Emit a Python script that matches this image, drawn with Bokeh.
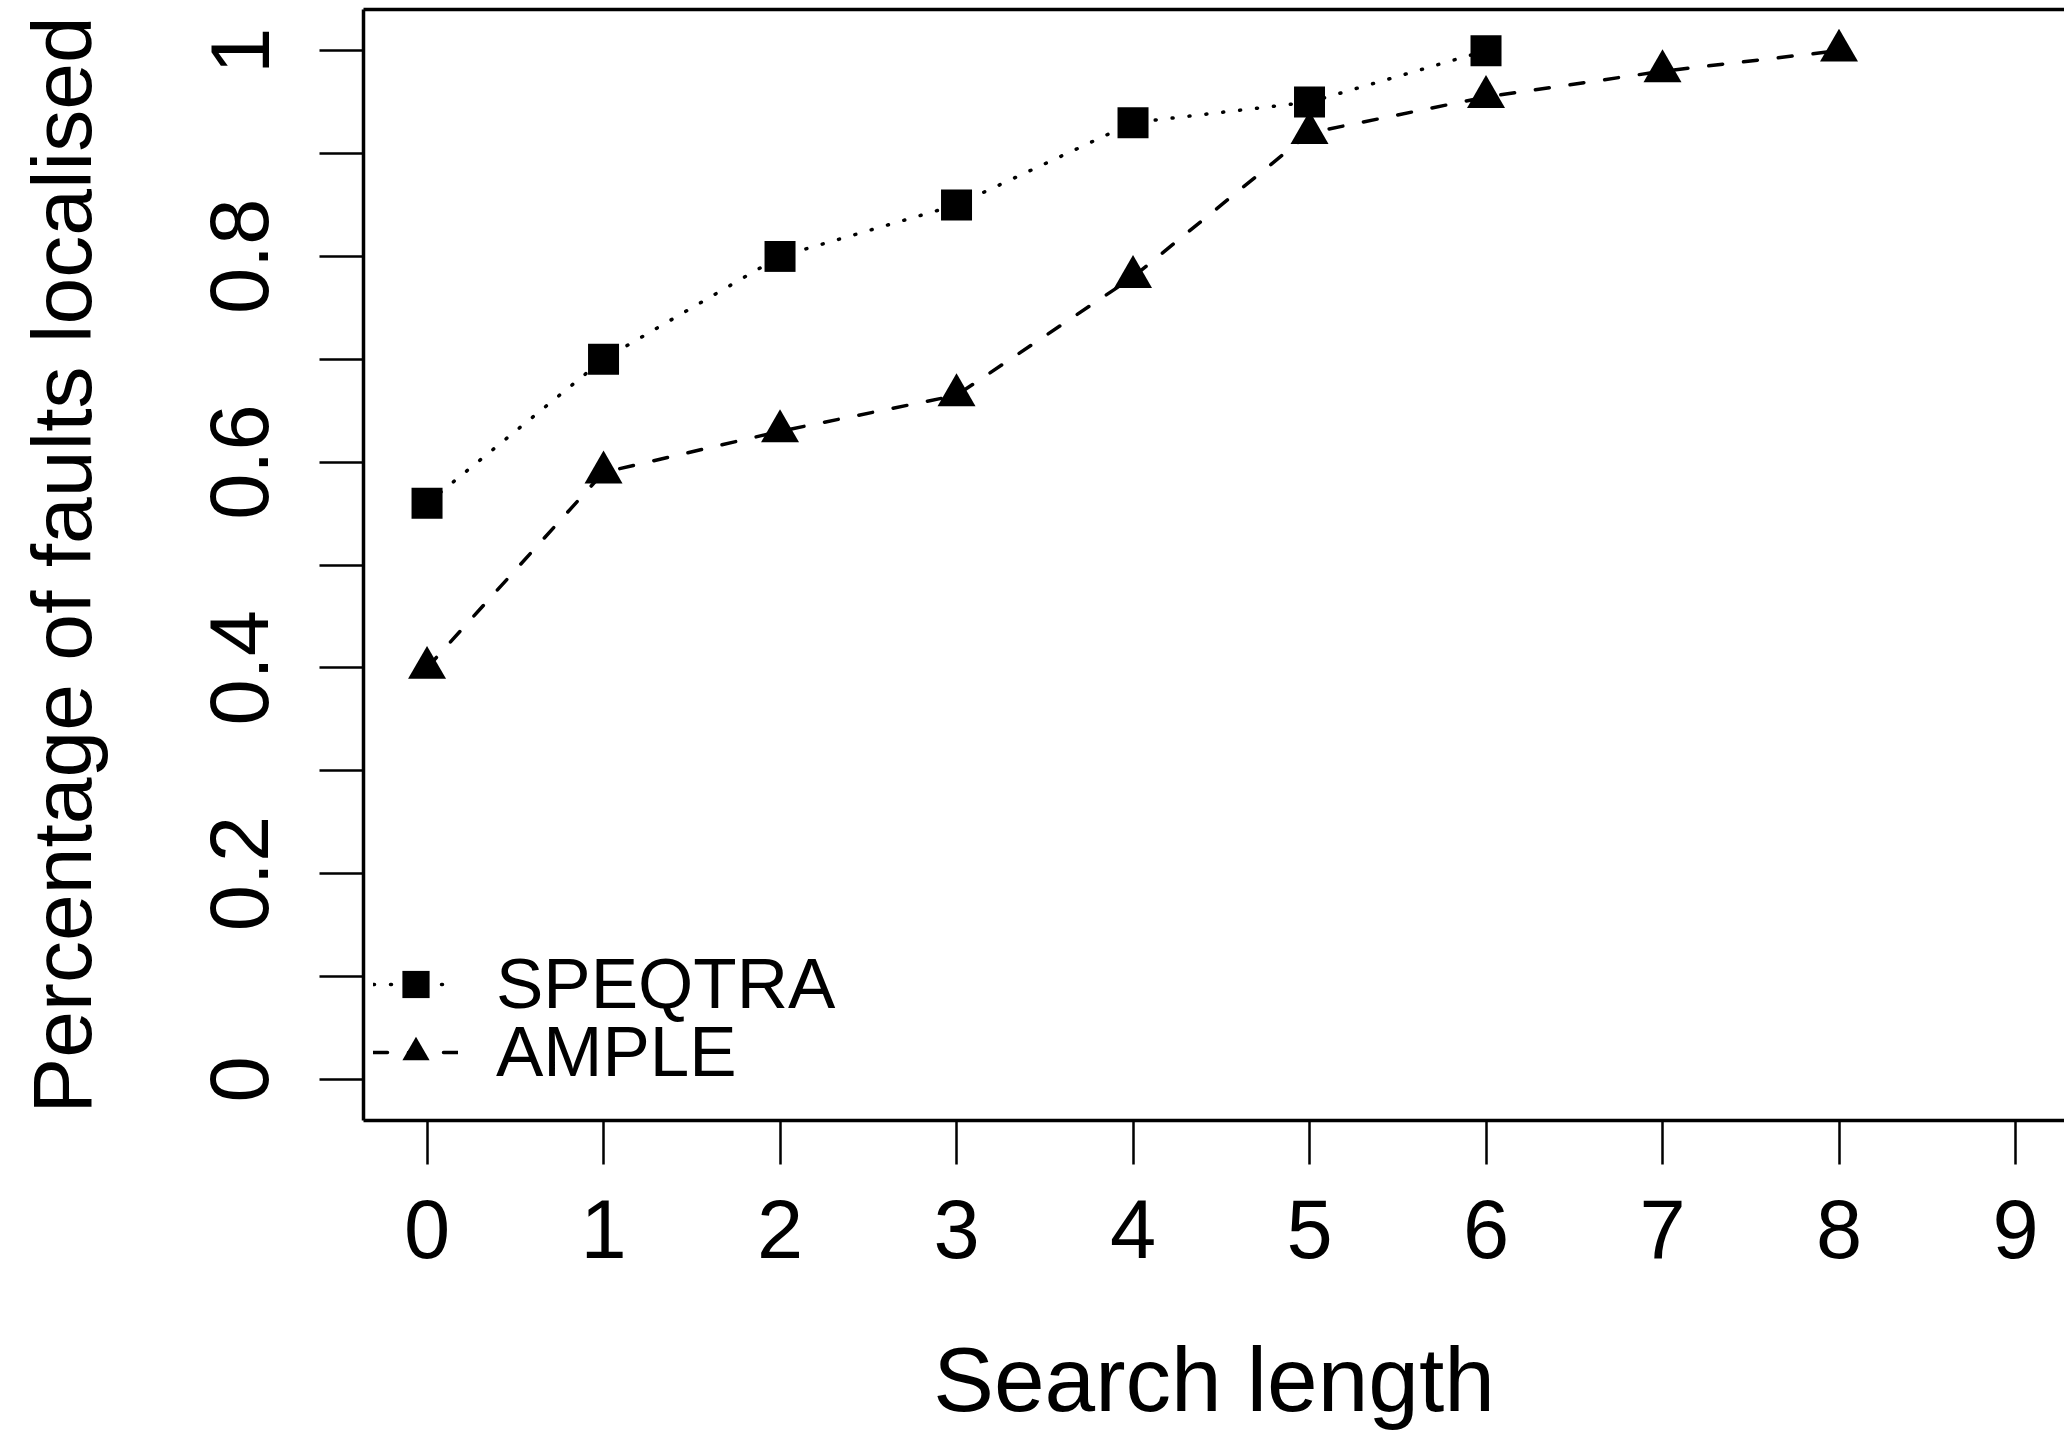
from bokeh.plotting import figure
from bokeh.models import Range1d, LinearAxis, FixedTicker, Legend, LegendItem
from bokeh.embed import file_html
from bokeh.resources import INLINE

# ---- data ----
speqtra_x = [0, 1, 2, 3, 4, 5, 6]
speqtra_y = [0.56, 0.70, 0.80, 0.85, 0.93, 0.95, 1.00]
ample_x = [0, 1, 2, 3, 4, 5, 6, 7, 8]
ample_y = [0.40, 0.59, 0.63, 0.665, 0.78, 0.92, 0.955, 0.98, 1.00]
x_ticks = [0, 1, 2, 3, 4, 5, 6, 7, 8, 9]
y_ticks = [0.0, 0.1, 0.2, 0.3, 0.4, 0.5, 0.6, 0.7, 0.8, 0.9, 1.0]
y_tick_labels = ["0", "", "0.2", "", "0.4", "", "0.6", "", "0.8", "", "1"]
series_names = ["SPEQTRA", "AMPLE"]
x_title = "Search length"
y_title = "Percentage of faults localised"

FONT = "Liberation Sans"
W, H = 2064, 1432
LEFT, TOP, BOTTOM = 363, 9, 311
frame_w = W - LEFT
unit_x = (2015 - 363) / 9.36
x_start = -0.36
x_end = x_start + frame_w / unit_x

p = figure(width=W, height=H, output_backend="svg", toolbar_location=None,
           x_range=Range1d(x_start, x_end), y_range=Range1d(-0.04, 1.04),
           min_border_left=LEFT, min_border_top=TOP, min_border_bottom=BOTTOM,
           min_border_right=0, x_axis_location=None, y_axis_location=None)
p.outline_line_color = None
p.grid.visible = False
p.background_fill_color = "white"
p.border_fill_color = "white"

def style_axis(ax):
    ax.axis_line_width = 3.5
    ax.axis_line_color = "black"
    ax.major_tick_line_width = 2.5
    ax.major_tick_line_color = "black"
    ax.major_tick_out = 44
    ax.major_tick_in = 0
    ax.minor_tick_out = 0
    ax.minor_tick_in = 0
    ax.major_label_text_font = FONT
    ax.major_label_text_font_size = "83px"
    ax.major_label_text_color = "black"
    ax.axis_label_text_font = FONT
    ax.axis_label_text_font_style = "normal"
    ax.axis_label_text_color = "black"

xaxis = LinearAxis(ticker=FixedTicker(ticks=x_ticks), axis_label=x_title)
style_axis(xaxis)
xaxis.major_label_standoff = 35
xaxis.axis_label_standoff = 68
xaxis.axis_label_text_font_size = "91px"
p.add_layout(xaxis, "below")

yaxis = LinearAxis(ticker=FixedTicker(ticks=y_ticks), axis_label=y_title)
style_axis(yaxis)
yaxis.major_label_overrides = {t: lab for t, lab in zip(y_ticks, y_tick_labels)}
yaxis.major_label_orientation = "vertical"
yaxis.major_label_standoff = 51
yaxis.axis_label_standoff = 99
yaxis.axis_label_text_font_size = "84px"
p.add_layout(yaxis, "left")

top = LinearAxis(ticker=FixedTicker(ticks=[]))
top.axis_line_width = 3.5
top.major_tick_out = 0
top.major_tick_in = 0
top.minor_tick_out = 0
top.minor_tick_in = 0
top.major_label_standoff = 0
top.major_label_text_font_size = "0px"
p.add_layout(top, "above")

l1 = p.line(speqtra_x, speqtra_y, line_color="black", line_width=3.5,
            line_dash="1 16", line_cap="round")
s1 = p.scatter(speqtra_x, speqtra_y, marker="square", size=31,
               fill_color="black", line_color=None)
l2 = p.line(ample_x, ample_y, line_color="black", line_width=3.5,
            line_dash="14 21", line_cap="round")
s2 = p.scatter(ample_x, ample_y, marker="triangle", size=38,
               fill_color="black", line_color=None)

frame_bottom_page = H - BOTTOM
row_centres = [985, 1053]
for name, rends, cy in zip(series_names, [[l1, s1], [l2, s2]], row_centres):
    item_h = 80
    vy = frame_bottom_page - (cy + item_h / 2)
    leg = Legend(items=[LegendItem(label=name, renderers=rends)],
                 location=(10, vy), background_fill_alpha=0,
                 border_line_color=None, padding=0, margin=0, spacing=0,
                 glyph_width=85, glyph_height=68, label_standoff=38,
                 label_text_font=FONT, label_text_font_size="71px",
                 label_text_color="black", label_height=68)
    p.add_layout(leg, "center")

open("out.html", "w").write(file_html(p, INLINE))
